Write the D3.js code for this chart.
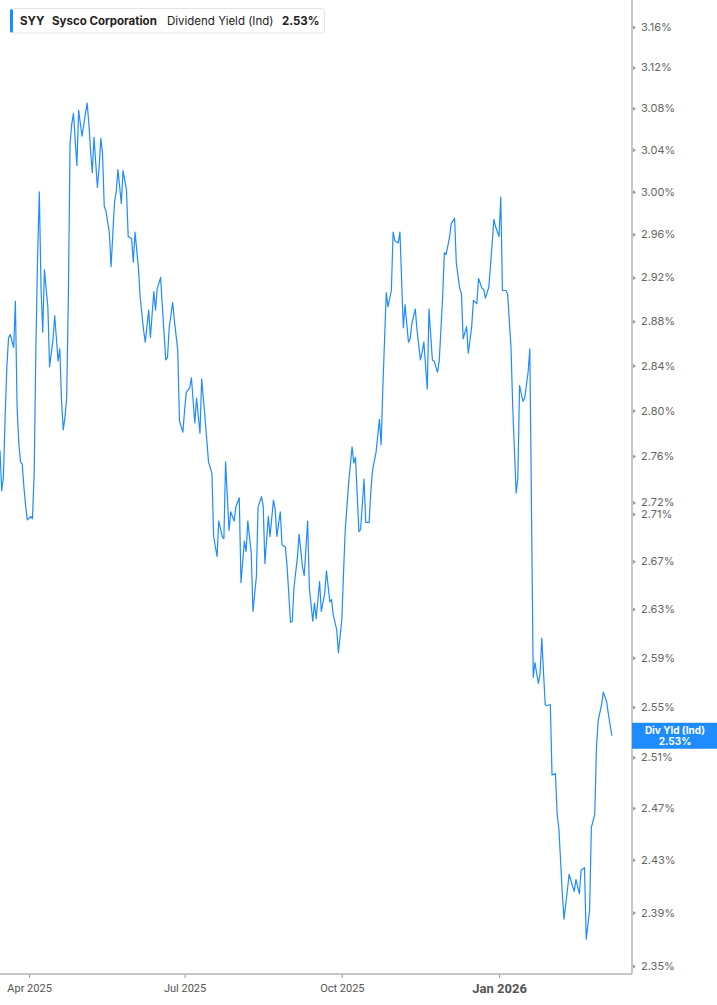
<!DOCTYPE html>
<html>
<head>
<meta charset="utf-8">
<title>SYY Dividend Yield</title>
<script src="https://cdn.jsdelivr.net/npm/d3@7"></script>
<style>
    body { margin: 0; background: #fff; }
    #chart { width: 717px; height: 1005px; }
    text { font-family: Inter, Roboto, "Noto Sans", sans-serif; }
</style>
</head>
<body>
<div id="chart"></div>
<script>

// trading dates, one line per month
const dates = [
    "2025-03-15","2025-03-16","2025-03-17","2025-03-18","2025-03-19","2025-03-20","2025-03-21","2025-03-23","2025-03-24","2025-03-25","2025-03-26","2025-03-27","2025-03-28","2025-03-29","2025-03-30","2025-03-31",
    "2025-04-02","2025-04-03","2025-04-04","2025-04-05","2025-04-06","2025-04-07","2025-04-08","2025-04-09","2025-04-10","2025-04-12","2025-04-13","2025-04-15","2025-04-16","2025-04-18","2025-04-19","2025-04-20","2025-04-21","2025-04-22","2025-04-23","2025-04-24","2025-04-25","2025-04-26","2025-04-27","2025-04-28","2025-04-29","2025-04-30",
    "2025-05-02","2025-05-04","2025-05-05","2025-05-06","2025-05-07","2025-05-08","2025-05-09","2025-05-11","2025-05-12","2025-05-13","2025-05-14","2025-05-15","2025-05-16","2025-05-18","2025-05-19","2025-05-21","2025-05-22","2025-05-23","2025-05-25","2025-05-26","2025-05-28","2025-05-29","2025-05-31",
    "2025-06-01","2025-06-02","2025-06-04","2025-06-05","2025-06-07","2025-06-08","2025-06-10","2025-06-11","2025-06-13","2025-06-14","2025-06-15","2025-06-17","2025-06-18","2025-06-20","2025-06-21","2025-06-22","2025-06-24","2025-06-25","2025-06-27","2025-06-28","2025-06-30",
    "2025-07-01","2025-07-02","2025-07-04","2025-07-05","2025-07-07","2025-07-08","2025-07-10","2025-07-11","2025-07-13","2025-07-14","2025-07-15","2025-07-17","2025-07-18","2025-07-20","2025-07-21","2025-07-23","2025-07-24","2025-07-25","2025-07-27","2025-07-28","2025-07-30","2025-07-31",
    "2025-08-02","2025-08-03","2025-08-05","2025-08-06","2025-08-07","2025-08-09","2025-08-10","2025-08-12","2025-08-13","2025-08-15","2025-08-16","2025-08-17","2025-08-19","2025-08-20","2025-08-22","2025-08-23","2025-08-24","2025-08-26","2025-08-27","2025-08-29","2025-08-30",
    "2025-09-01","2025-09-02","2025-09-03","2025-09-05","2025-09-06","2025-09-08","2025-09-09","2025-09-11","2025-09-12","2025-09-14","2025-09-15","2025-09-16","2025-09-18","2025-09-19","2025-09-21","2025-09-22","2025-09-24","2025-09-25","2025-09-26","2025-09-28","2025-09-29",
    "2025-10-01","2025-10-02","2025-10-03","2025-10-05","2025-10-07","2025-10-08","2025-10-09","2025-10-11","2025-10-12","2025-10-14","2025-10-15","2025-10-17","2025-10-18","2025-10-19","2025-10-21","2025-10-23","2025-10-24","2025-10-25","2025-10-27","2025-10-28","2025-10-30","2025-10-31",
    "2025-11-01","2025-11-03","2025-11-04","2025-11-06","2025-11-07","2025-11-09","2025-11-10","2025-11-11","2025-11-13","2025-11-14","2025-11-16","2025-11-17","2025-11-18","2025-11-20","2025-11-21","2025-11-23","2025-11-24","2025-11-26","2025-11-27","2025-11-29","2025-11-30",
    "2025-12-01","2025-12-03","2025-12-04","2025-12-06","2025-12-07","2025-12-09","2025-12-10","2025-12-11","2025-12-13","2025-12-14","2025-12-16","2025-12-17","2025-12-19","2025-12-20","2025-12-22","2025-12-23","2025-12-24","2025-12-26","2025-12-27","2025-12-29","2025-12-30",
    "2026-01-01","2026-01-02","2026-01-03","2026-01-05","2026-01-06","2026-01-08","2026-01-09","2026-01-11","2026-01-12","2026-01-13","2026-01-15","2026-01-16","2026-01-18","2026-01-19","2026-01-21","2026-01-22","2026-01-24","2026-01-25","2026-01-26","2026-01-28","2026-01-29","2026-01-31",
    "2026-02-01","2026-02-03","2026-02-04","2026-02-05","2026-02-07","2026-02-08","2026-02-10","2026-02-11","2026-02-13","2026-02-14","2026-02-15","2026-02-17","2026-02-18","2026-02-20","2026-02-21","2026-02-23","2026-02-24","2026-02-26","2026-02-27","2026-02-28",
    "2026-03-02","2026-03-03","2026-03-05","2026-03-06","2026-03-08"
];

// dividend yield (ind) in %
const yieldPct = [
    2.765, 2.730, 2.742, 2.794, 2.838, 2.865, 2.868, 2.856, 2.898, 2.803, 2.771, 2.755, 2.753, 2.733, 2.717, 2.705,
    2.708, 2.706, 2.745, 2.856, 2.939, 3.000, 2.911, 2.870, 2.927, 2.893, 2.839, 2.863, 2.885, 2.844, 2.855, 2.809, 2.783, 2.794, 2.811, 2.902, 3.046, 3.065, 3.075, 3.049, 3.025, 3.078,
    3.053, 3.075, 3.085, 3.065, 3.039, 3.018, 3.052, 3.004, 3.023, 3.051, 3.036, 2.986, 2.982, 2.961, 2.930, 2.990, 3.000, 3.021, 2.989, 3.020, 3.002, 2.958, 2.956,
    2.934, 2.962, 2.929, 2.902, 2.872, 2.861, 2.890, 2.865, 2.907, 2.890, 2.910, 2.920, 2.893, 2.845, 2.847, 2.874, 2.897, 2.881, 2.854, 2.791, 2.781,
    2.800, 2.816, 2.820, 2.829, 2.789, 2.811, 2.780, 2.828, 2.793, 2.774, 2.755, 2.745, 2.691, 2.674, 2.704, 2.691, 2.689, 2.755, 2.696, 2.712, 2.704, 2.716,
    2.724, 2.652, 2.687, 2.678, 2.704, 2.677, 2.628, 2.657, 2.716, 2.725, 2.717, 2.668, 2.708, 2.691, 2.722, 2.714, 2.691, 2.712, 2.684, 2.682, 2.665,
    2.619, 2.620, 2.648, 2.673, 2.693, 2.665, 2.658, 2.704, 2.648, 2.620, 2.635, 2.622, 2.653, 2.628, 2.643, 2.662, 2.636, 2.638, 2.625, 2.613, 2.594,
    2.621, 2.660, 2.696, 2.737, 2.768, 2.754, 2.759, 2.695, 2.697, 2.740, 2.703, 2.703, 2.730, 2.748, 2.763, 2.792, 2.770, 2.820, 2.906, 2.893, 2.908, 2.962,
    2.954, 2.952, 2.962, 2.874, 2.895, 2.861, 2.864, 2.878, 2.891, 2.872, 2.845, 2.852, 2.861, 2.819, 2.891, 2.845, 2.844, 2.834, 2.844, 2.902, 2.943,
    2.941, 2.957, 2.970, 2.975, 2.933, 2.910, 2.905, 2.864, 2.875, 2.851, 2.875, 2.899, 2.896, 2.919, 2.910, 2.909, 2.901, 2.911, 2.931, 2.974, 2.967,
    2.958, 2.995, 2.908, 2.908, 2.905, 2.856, 2.803, 2.728, 2.741, 2.822, 2.808, 2.811, 2.834, 2.855, 2.574, 2.586, 2.569, 2.577, 2.606, 2.552, 2.551, 2.552,
    2.496, 2.497, 2.465, 2.454, 2.405, 2.385, 2.407, 2.419, 2.410, 2.406, 2.415, 2.404, 2.422, 2.424, 2.370, 2.392, 2.455, 2.465, 2.518, 2.539,
    2.552, 2.562, 2.554, 2.544, 2.527
];

// axis ticks as printed on the chart
const yTicks = [3.16, 3.12, 3.08, 3.04, 3.00, 2.96, 2.92, 2.88, 2.84, 2.80, 2.76, 2.72,
                2.71, 2.67, 2.63, 2.59, 2.55, 2.51, 2.47, 2.43, 2.39, 2.35];
const xTicks = ["2025-04-01", "2025-07-01", "2025-10-01", "2026-01-01"];

const ticker = "SYY";
const company = "Sysco Corporation";
const metric = "Dividend Yield (Ind)";
const badgeLabel = "Div Yld (Ind)";


class YieldChart {

    constructor(parentElement, dates, values) {
        this.parentElement = parentElement;
        this.dates = dates;
        this.values = values;
        this.parseDate = d3.timeParse("%Y-%m-%d");
        this.initVis();
    }

    initVis() {
        let vis = this;

        vis.width = 717;
        vis.height = 1005;
        vis.plotRight = 632;
        vis.plotBottom = 974;

        vis.svg = d3.select("#" + vis.parentElement).append("svg")
            .attr("width", vis.width)
            .attr("height", vis.height);

        vis.x = d3.scaleTime()
            .domain([new Date(2025, 2, 15), new Date(2026, 2, 19, 19)])
            .range([0, vis.plotRight]);

        vis.y = d3.scaleLog()
            .domain([2.35, 3.16])
            .range([966, 27]);

        vis.line = d3.line()
            .x(d => vis.x(d.date))
            .y(d => vis.y(d.value));

        vis.wrangleData();
    }

    wrangleData() {
        let vis = this;
        vis.displayData = vis.dates.map((d, i) => ({date: vis.parseDate(d), value: vis.values[i]}));
        vis.last = vis.displayData[vis.displayData.length - 1];
        vis.updateVis();
    }

    updateVis() {
        let vis = this;
        let fmt = d3.format(".2f");

        // yield line
        vis.svg.append("path")
            .datum(vis.displayData)
            .attr("fill", "none")
            .attr("stroke", "#1e8cff")
            .attr("stroke-width", 1.2)
            .attr("stroke-linejoin", "round")
            .attr("d", vis.line);

        // right axis
        let yAxis = d3.axisRight(vis.y)
            .tickValues(yTicks)
            .tickFormat(d => fmt(d) + "%")
            .tickSize(0)
            .tickPadding(9);
        let yg = vis.svg.append("g")
            .attr("transform", `translate(${vis.plotRight},0)`)
            .call(yAxis);
        yg.select(".domain").remove();
        yg.selectAll(".tick text")
            .attr("fill", "#666")
            .style("font-size", "11px");
        yg.selectAll(".tick").append("path")
            .attr("d", "M1,-2L4,0L1,2Z")
            .attr("fill", "#999");

        // bottom axis
        let xAxis = d3.axisBottom(vis.x)
            .tickValues(xTicks.map(vis.parseDate))
            .tickFormat(d3.timeFormat("%b %Y"))
            .tickSize(4)
            .tickPadding(6);
        let xg = vis.svg.append("g")
            .attr("transform", `translate(0,${vis.plotBottom})`)
            .call(xAxis);
        xg.select(".domain").remove();
        xg.selectAll(".tick line").attr("stroke", "#999");
        xg.selectAll(".tick text")
            .attr("fill", "#555")
            .style("font-family", "Roboto, sans-serif")
            .style("font-size", d => d.getMonth() === 0 ? "13px" : "11px")
            .style("font-weight", d => d.getMonth() === 0 ? "bold" : "normal");

        // axis frame lines
        vis.svg.append("line")
            .attr("x1", vis.plotRight).attr("x2", vis.plotRight)
            .attr("y1", 0).attr("y2", vis.plotBottom)
            .attr("stroke", "#b4b4b4").attr("stroke-width", 1.5);
        vis.svg.append("line")
            .attr("x1", 0).attr("x2", vis.plotRight)
            .attr("y1", vis.plotBottom).attr("y2", vis.plotBottom)
            .attr("stroke", "#b4b4b4").attr("stroke-width", 1.5);

        // last value badge on the axis
        let ly = vis.y(vis.last.value);
        let badge = vis.svg.append("g").attr("transform", `translate(${vis.plotRight},${ly})`);
        badge.append("rect")
            .attr("x", 0).attr("y", -13)
            .attr("width", vis.width - vis.plotRight).attr("height", 26)
            .attr("fill", "#1e8cff");
        badge.append("text")
            .attr("x", 43).attr("y", -2)
            .attr("text-anchor", "middle")
            .attr("fill", "#fff")
            .style("font-size", "10px").style("font-weight", "bold")
            .text(badgeLabel);
        badge.append("text")
            .attr("x", 43).attr("y", 9.5)
            .attr("text-anchor", "middle")
            .attr("fill", "#fff")
            .style("font-size", "10px").style("font-weight", "bold")
            .text(fmt(vis.last.value) + "%");

        // legend box top left
        let legend = vis.svg.append("g");
        legend.append("rect")
            .attr("x", 10.5).attr("y", 8.5)
            .attr("width", 314).attr("height", 24.5)
            .attr("rx", 3)
            .attr("fill", "#fff")
            .attr("stroke", "#e4e4e4");
        legend.append("rect")
            .attr("x", 10).attr("y", 9)
            .attr("width", 3).attr("height", 23.5)
            .attr("rx", 1.5)
            .attr("fill", "#1e8cff");

        let items = [
            {x: 20, text: ticker, weight: "bold"},
            {x: 52, text: company, weight: "bold"},
            {x: 167, text: metric, weight: "normal"},
            {x: 282, text: fmt(vis.last.value) + "%", weight: "bold"}
        ];
        legend.selectAll(".legend-text")
            .data(items)
            .enter().append("text")
            .attr("class", "legend-text")
            .attr("x", d => d.x)
            .attr("y", 25)
            .attr("fill", "#222")
            .style("font-size", "11.5px")
            .style("font-weight", d => d.weight)
            .text(d => d.text);
    }
}

let yieldChart = new YieldChart("chart", dates, yieldPct);

</script>
</body>
</html>
